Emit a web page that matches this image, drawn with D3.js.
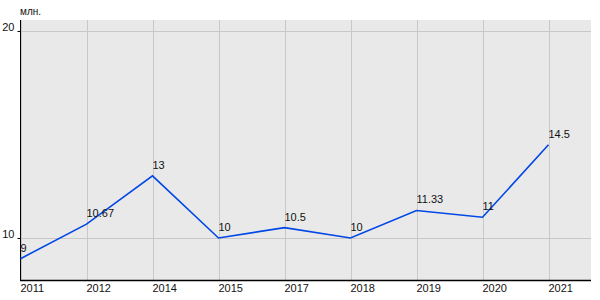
<!DOCTYPE html>
<html><head><meta charset="utf-8">
<script src="https://cdn.jsdelivr.net/npm/d3@7"></script>
<style>body{margin:0;background:#fff}svg{display:block}text{font-family:"Liberation Sans",Arial,sans-serif}</style>
</head><body>
<svg id="c" width="600" height="300"></svg>
<script>
const categories = ["2011","2012","2014","2015","2017","2018","2019","2020","2021"];
const values = [9, 10.67, 13, 10, 10.5, 10, 11.33, 11, 14.5];
const valueLabels = ["9","10.67","13","10","10.5","10","11.33","11","14.5"];
const yTicks = [10, 20];
const unitLabel = "млн.";

(function(){
const svg = d3.select("#c");
const pL = 20, pR = 591, pT = 20, pB = 280;
const x = d3.scalePoint().domain(categories).range([20.5, 548.5]);
const y = d3.scaleLinear().domain([7.97, 20.53]).range([pB, pT]);

svg.append("rect").attr("x", pL).attr("y", pT).attr("width", pR-pL).attr("height", pB-pT).attr("fill", "#e9e9e9");

svg.append("g").selectAll("line").data(categories).join("line")
  .attr("x1", d => Math.round(x(d))+0.5).attr("x2", d => Math.round(x(d))+0.5)
  .attr("y1", pT).attr("y2", pB).attr("stroke", "#c8c8c8").attr("stroke-width", 1);
svg.append("g").selectAll("line").data(yTicks).join("line")
  .attr("x1", pL).attr("x2", pR)
  .attr("y1", d => Math.round(y(d))+0.5).attr("y2", d => Math.round(y(d))+0.5)
  .attr("stroke", "#c8c8c8").attr("stroke-width", 1);

const ya = svg.append("g").attr("transform", `translate(${pL+0.5},0)`)
  .call(d3.axisLeft(y).tickValues(yTicks).tickSize(3).tickPadding(3).tickFormat(d3.format("d")));
ya.select(".domain").attr("d", `M0,${pT}V${pB}`).attr("stroke", "#000");
ya.selectAll(".tick line").attr("stroke", "#000");
ya.selectAll(".tick text").attr("font-size", 11).attr("fill", "#111").attr("dy", "-0.05em").attr("font-family", "Liberation Sans, Arial, sans-serif");

const xa = svg.append("g").attr("transform", `translate(0,${pB+0.5})`)
  .call(d3.axisBottom(x).tickSize(0).tickPadding(4));
xa.select(".domain").attr("d", `M${pL},0H${pR}`).attr("stroke", "#000").attr("stroke-width", 1.5);
xa.selectAll(".tick text").attr("font-size", 11).attr("fill", "#111").attr("text-anchor", "start").attr("x", -0.5).attr("font-family", "Liberation Sans, Arial, sans-serif");

svg.append("path").datum(values)
  .attr("d", d3.line().x((d,i) => x(categories[i])).y(d => y(d)))
  .attr("fill", "none").attr("stroke", "#0047e6").attr("stroke-width", 1.6);

svg.append("g").selectAll("text").data(values).join("text")
  .attr("x", (d,i) => x(categories[i])).attr("y", d => y(d) - 7)
  .attr("font-size", 11).attr("fill", "#111").text((d,i) => valueLabels[i]);

svg.append("text").attr("x", 20).attr("y", 15).attr("font-size", 10).attr("fill", "#111").text(unitLabel);
})();
</script>
</body></html>
